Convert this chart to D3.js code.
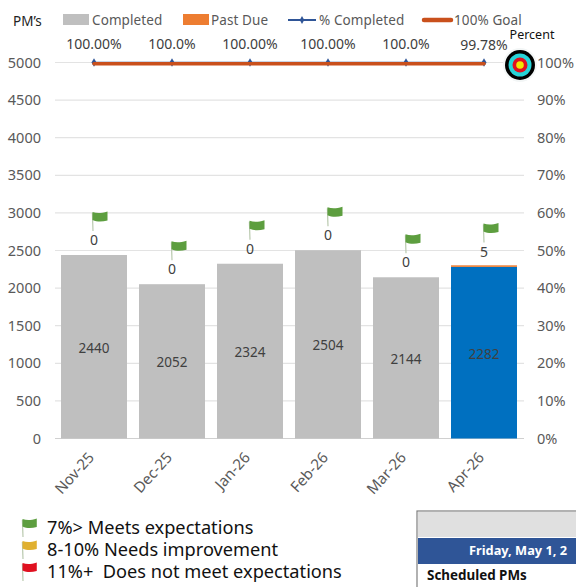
<!DOCTYPE html>
<html><head><meta charset="utf-8">
<script src="https://cdn.jsdelivr.net/npm/d3@7"></script>
<style>html,body{margin:0;padding:0;background:#fff}svg{display:block}text{font-family:"Noto Sans","Open Sans",sans-serif;white-space:pre}</style>
</head><body><svg id="c" width="576" height="587"></svg>
<script>
const months=["Nov-25","Dec-25","Jan-26","Feb-26","Mar-26","Apr-26"];
const completed=[2440,2052,2324,2504,2144,2282];
const pastDue=[0,0,0,0,0,5];
const pctCompleted=[100,100,100,100,100,99.78];
const goal=[100,100,100,100,100,100];
const pctLabels=["100.00%","100.0%","100.00%","100.00%","100.0%","99.78%"];
const leftTicks=[0,500,1000,1500,2000,2500,3000,3500,4000,4500,5000];
const rightTicks=[0,10,20,30,40,50,60,70,80,90,100];
const legendItems=["Completed","Past Due","% Completed","100% Goal"];
const keyLines=["7%> Meets expectations","8-10% Needs improvement","11%+  Does not meet expectations"];
const keyColors=["#5d9e3f","#e0b030","#e01020"];

const svg=d3.select("#c");
const x=d3.scaleBand().domain(months).range([55,523]).paddingInner(0.154).paddingOuter(0.077);
const y=d3.scaleLinear().domain([0,5000]).range([438.5,62.5]);
const yR=d3.scaleLinear().domain([0,100]).range([438.5,62.5]);
const cx=m=>x(m)+x.bandwidth()/2;
const txt="#595959";

svg.append("g").selectAll("line").data(leftTicks).join("line")
  .attr("x1",55).attr("x2",524).attr("y1",d=>y(d)).attr("y2",d=>y(d))
  .attr("stroke",d=>d===0?"#d0d0d0":"#e3e3e3").attr("stroke-width",1.2);

const gl=d3.axisLeft(y).tickValues(leftTicks).tickSize(0).tickPadding(0).tickFormat(d3.format("d"));
const aL=svg.append("g").attr("transform","translate(41,0)").call(gl);
aL.select(".domain").remove();
aL.selectAll("text").attr("font-size",14.5).attr("fill",txt).style("font-family","'Noto Sans'");

const gr=d3.axisRight(yR).tickValues(rightTicks).tickSize(0).tickPadding(0).tickFormat(d=>d+"%");
const aR=svg.append("g").attr("transform","translate(537,0)").call(gr);
aR.select(".domain").remove();
aR.selectAll("text").attr("font-size",14.5).attr("fill",txt);

svg.append("g").selectAll("rect").data(months).join("rect")
  .attr("x",d=>x(d)).attr("width",x.bandwidth())
  .attr("y",(d,i)=>y(completed[i])).attr("height",(d,i)=>y(0)-y(completed[i]))
  .attr("fill",(d,i)=>i===5?"#0070c0":"#bfbfbf");
svg.append("g").selectAll("rect").data(months).join("rect")
  .attr("x",d=>x(d)).attr("width",x.bandwidth())
  .attr("y",(d,i)=>y(completed[i]+pastDue[i])-1.2)
  .attr("height",(d,i)=>pastDue[i]>0?y(completed[i])-y(completed[i]+pastDue[i])+1.2:0)
  .attr("fill","#ed7d31");

svg.append("g").selectAll("text").data(months).join("text")
  .attr("x",cx).attr("y",(d,i)=>y(completed[i]/2)+6)
  .attr("text-anchor","middle").attr("font-size",13.5).attr("fill","#404040")
  .text((d,i)=>completed[i]);

svg.append("g").selectAll("text").data(months).join("text")
  .attr("x",cx).attr("y",(d,i)=>y(completed[i]+pastDue[i])-10)
  .attr("text-anchor","middle").attr("font-size",14).attr("fill","#404040")
  .text((d,i)=>pastDue[i]);

function flag(g,color,s){
  g.append("path").attr("d",`M0 0 L-0.6 ${-18*s}`).attr("stroke","#b9c9ae").attr("stroke-width",1.2).attr("fill","none");
  g.append("path").attr("d",`M-0.5 ${-19*s} C${4*s} ${-17.5*s} ${8*s} ${-17.5*s} ${14.5*s} ${-19.5*s} L${14.5*s} ${-10.5*s} C${9*s} ${-9*s} ${4*s} ${-9*s} -0.5 ${-11*s} Z`).attr("fill",color);
}
months.forEach((m,i)=>{
  const g=svg.append("g").attr("transform",`translate(${cx(m)+(i===0?-1:0)},${y(completed[i]+pastDue[i])-24})`);
  flag(g,keyColors[0],1);
});

const line=d3.line().x((d,i)=>cx(months[i])).y(d=>yR(d));
svg.append("path").datum(pctCompleted.map(()=>100)).attr("d",line).attr("fill","none").attr("stroke","#2f5597").attr("stroke-width",1.5);
svg.append("g").selectAll("path").data(months).join("path")
  .attr("d",d3.symbol(d3.symbolDiamond,22))
  .attr("transform",(d,i)=>`translate(${cx(d)},${yR(pctCompleted[i]>99.5?100:pctCompleted[i])})`)
  .attr("fill","#2f5597");
svg.append("path").datum(goal).attr("d",line).attr("fill","none").attr("stroke","#c9501c").attr("stroke-width",3.6).attr("stroke-linecap","round").attr("transform","translate(0,1.3)");

svg.append("g").selectAll("text").data(months).join("text")
  .attr("x",cx).attr("y",(d,i)=>i===5?50:49)
  .attr("text-anchor","middle").attr("font-size",14).attr("fill","#404040")
  .text((d,i)=>pctLabels[i]);

// target icon
[[17,"#f3f6f6"],[15,"#000"],[11.5,"#27d4d8"],[7.5,"#e01020"],[3.8,"#f2e600"]].forEach(c=>{
  svg.append("circle").attr("cx",520).attr("cy",65).attr("r",c[0]).attr("fill",c[1]);
});
svg.append("text").attr("x",532).attr("y",39).attr("text-anchor","middle").attr("font-size",12.5).attr("fill","#111").text("Percent");
svg.append("text").attr("x",13).attr("y",26).attr("font-size",13.5).attr("fill","#222").text("PM\u2019s");

// legend
const lg=svg.append("g");
lg.append("rect").attr("x",63).attr("y",14).attr("width",26).attr("height",11).attr("fill","#bfbfbf");
lg.append("rect").attr("x",183).attr("y",14).attr("width",26).attr("height",11).attr("fill","#ed7d31");
lg.append("line").attr("x1",288).attr("x2",316).attr("y1",20).attr("y2",20).attr("stroke","#2f5597").attr("stroke-width",2);
lg.append("path").attr("d",d3.symbol(d3.symbolDiamond,18)).attr("transform","translate(302,20)").attr("fill","#2f5597");
lg.append("line").attr("x1",424).attr("x2",451).attr("y1",20).attr("y2",20).attr("stroke","#c9501c").attr("stroke-width",4.5).attr("stroke-linecap","round");
lg.selectAll("text").data(legendItems).join("text")
  .attr("x",(d,i)=>[92,211,319,454][i]).attr("y",25)
  .attr("font-size",13.5).attr("letter-spacing",0.1).attr("fill",txt).text(d=>d);

// x labels
svg.append("g").selectAll("text").data(months).join("text")
  .attr("text-anchor","end").attr("font-size",15).attr("fill",txt)
  .attr("transform",d=>`translate(${cx(d)+1},${458}) rotate(-48)`)
  .text(d=>d);

// key
const ky=[528,550,572];
keyLines.forEach((t,i)=>{
  svg.append("text").attr("x",47).attr("y",ky[i]+6).attr("font-size",18.2).attr("fill","#111").text(t);
  const g=svg.append("g").attr("transform",`translate(23,${ky[i]+9})`);
  flag(g,keyColors[i],0.95);
});

// table corner
svg.append("rect").attr("x",417).attr("y",511).attr("width",160).attr("height",77).attr("fill","#fff").attr("stroke","#7f7f7f").attr("stroke-width",1.2);
svg.append("rect").attr("x",418).attr("y",512).attr("width",158).attr("height",25).attr("fill","#e0e0e0");
svg.append("rect").attr("x",418).attr("y",538).attr("width",158).attr("height",26).attr("fill","#2f5597");
svg.append("text").attr("x",469).attr("y",555).attr("font-size",12.8).attr("font-weight",700).attr("fill","#fff").text("Friday, May 1, 2");
svg.append("text").attr("x",427).attr("y",580).attr("font-size",13.4).attr("font-weight",700).attr("fill","#111").text("Scheduled PMs");
</script></body></html>
